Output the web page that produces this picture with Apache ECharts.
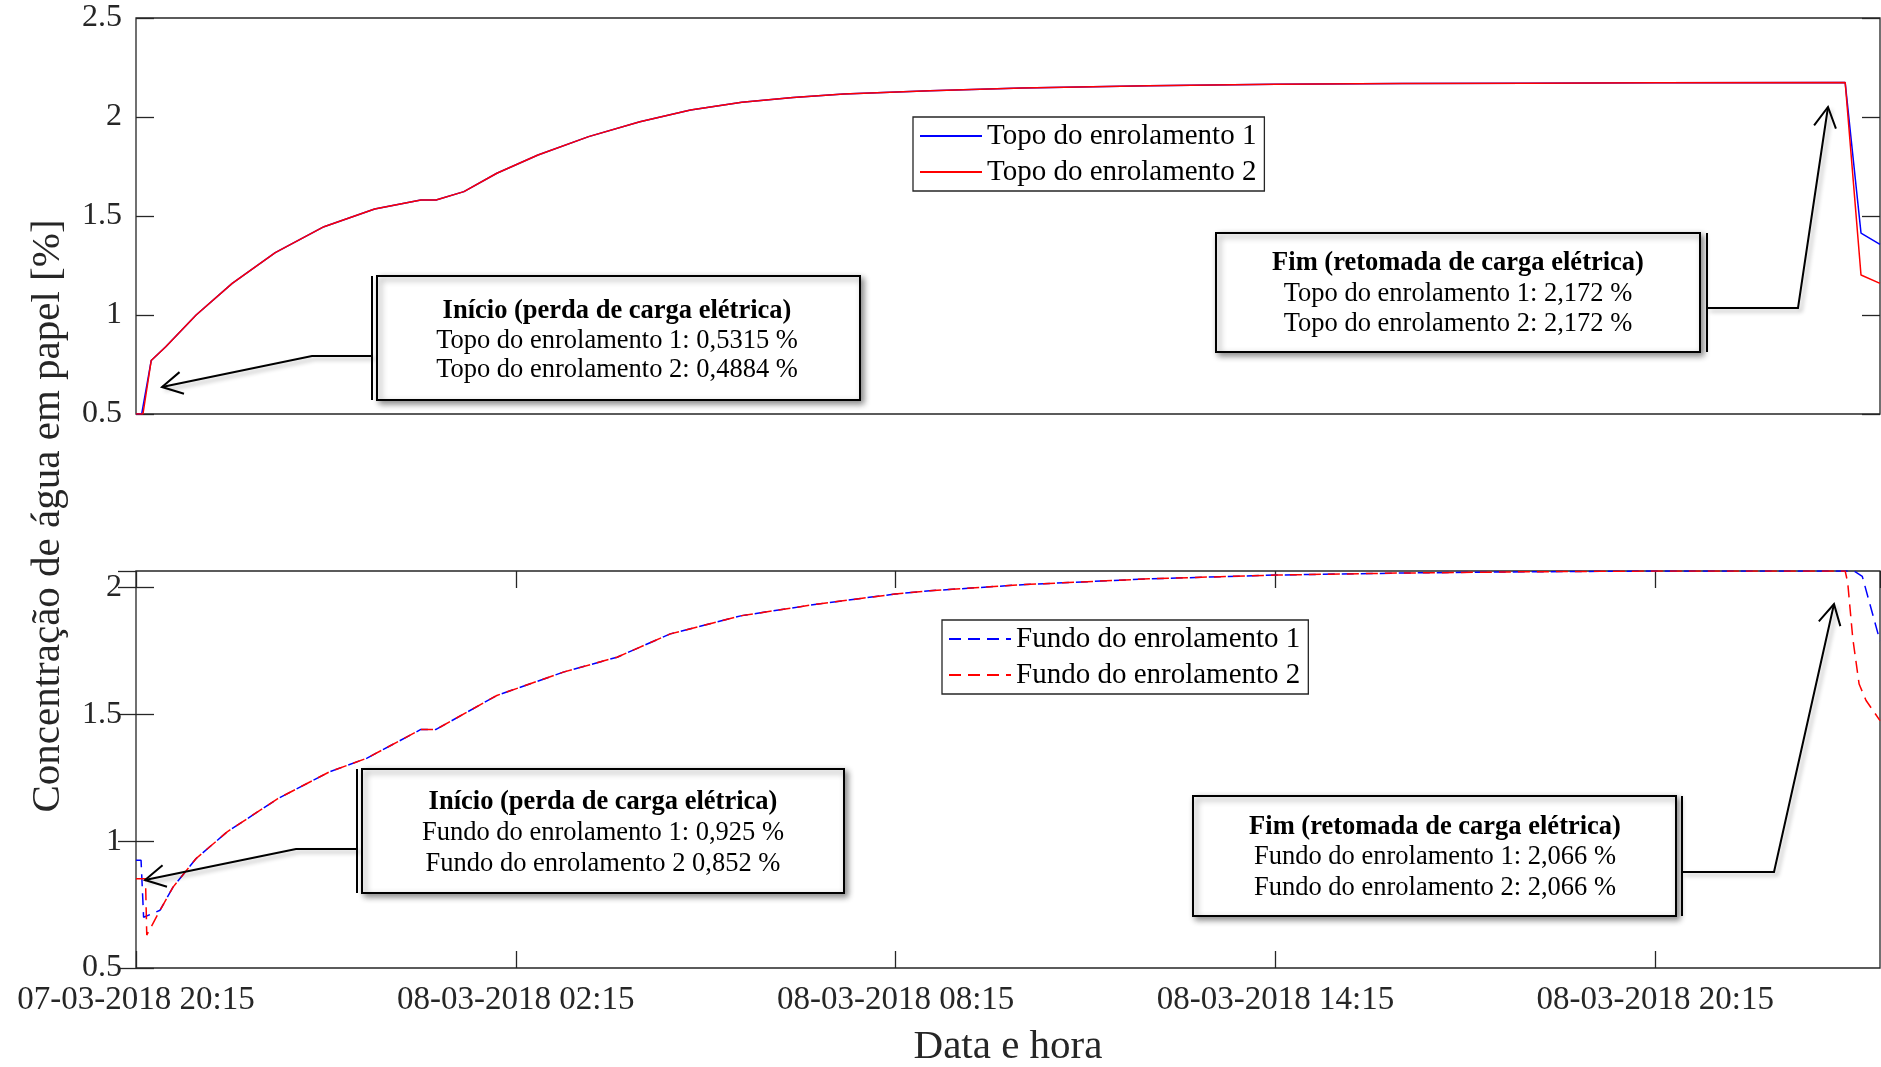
<!DOCTYPE html>
<html>
<head>
<meta charset="utf-8">
<script src="https://cdn.jsdelivr.net/npm/echarts@6.0.0/dist/echarts.min.js"></script>
<style>
  html, body { margin: 0; padding: 0; background: #fff; }
  #chart { width: 1881px; height: 1067px; }
</style>
</head>
<body>
<div id="chart"></div>
<script type="text/javascript">
// horas desde 07-03-2018 20:15
var xTickHours = [0, 6, 12, 18, 24];
var xTickLabels = ['07-03-2018 20:15', '08-03-2018 02:15', '08-03-2018 08:15', '08-03-2018 14:15', '08-03-2018 20:15'];

// painel superior (topo), curva comum aos dois enrolamentos
var topoCurveH = [0.24, 0.47, 0.95, 1.52, 2.20, 2.97, 3.77, 4.50, 4.74, 5.18, 5.70, 6.35, 7.15, 7.96, 8.76, 9.57, 10.38, 11.18, 12.54, 14, 16, 18, 20, 22, 24, 27.0];
var topoCurveV = [0.77, 0.84, 1.0, 1.16, 1.315, 1.446, 1.535, 1.581, 1.581, 1.623, 1.716, 1.808, 1.901, 1.976, 2.035, 2.074, 2.099, 2.116, 2.133, 2.147, 2.158, 2.165, 2.169, 2.171, 2.173, 2.174];
var topo1StartH = [0, 0.09], topo1StartV = [0.5, 0.5];
var topo2StartH = [0, 0.11], topo2StartV = [0.5, 0.5];
var topo1EndH = [27.25, 27.55], topo1EndV = [1.414, 1.357];
var topo2EndH = [27.25, 27.55], topo2EndV = [1.202, 1.160];

// painel inferior (fundo)
var fundoCurveH = [0.38, 0.585, 0.95, 1.44, 2.24, 3.05, 3.65, 4.50, 4.74, 5.70, 6.75, 7.60, 8.44, 9.57, 10.78, 11.99, 12.54, 14, 16, 18, 20, 22, 24];
var fundoCurveV = [0.728, 0.819, 0.932, 1.037, 1.168, 1.273, 1.328, 1.441, 1.441, 1.575, 1.667, 1.726, 1.818, 1.890, 1.936, 1.975, 1.988, 2.012, 2.035, 2.050, 2.058, 2.063, 2.066];
var fundo1StartH = [0, 0.08, 0.12], fundo1StartV = [0.925, 0.925, 0.70];
var fundo2StartH = [0, 0.15, 0.17], fundo2StartV = [0.852, 0.852, 0.63];
var fundo1EndH = [27.14, 27.27, 27.55], fundo1EndV = [2.066, 2.045, 1.79];
var fundo2EndH = [27.0, 27.04, 27.12, 27.22, 27.33, 27.55], fundo2EndV = [2.066, 2.02, 1.80, 1.62, 1.555, 1.476];

var legendTopo = ['Topo do enrolamento 1', 'Topo do enrolamento 2'];
var legendFundo = ['Fundo do enrolamento 1', 'Fundo do enrolamento 2'];

var noteTopoIni = ['Início (perda de carga elétrica)', 'Topo do enrolamento 1: 0,5315 %', 'Topo do enrolamento 2: 0,4884 %'];
var noteTopoFim = ['Fim (retomada de carga elétrica)', 'Topo do enrolamento 1: 2,172 %', 'Topo do enrolamento 2: 2,172 %'];
var noteFundoIni = ['Início (perda de carga elétrica)', 'Fundo do enrolamento 1: 0,925 %', 'Fundo do enrolamento 2 0,852 %'];
var noteFundoFim = ['Fim (retomada de carga elétrica)', 'Fundo do enrolamento 1: 2,066 %', 'Fundo do enrolamento 2: 2,066 %'];

var FONT = "'Liberation Serif', 'Times New Roman', serif";
var AXC = '#262626';

function pairs(parts) {
  var out = [];
  parts.forEach(function (p) {
    for (var i = 0; i < p[0].length; i++) out.push([p[0][i], p[1][i]]);
  });
  return out;
}

var chart = echarts.init(document.getElementById('chart'), null, { renderer: 'canvas' });

function xAxisBase(grid) {
  return {
    type: 'value', gridIndex: grid, min: 0, max: 27.55, interval: 6,
    axisLine: { show: false }, splitLine: { show: false },
    axisTick: { show: false }, axisLabel: { show: false }
  };
}
function yAxisBase(grid, max, pos, labels) {
  return {
    type: 'value', gridIndex: grid, position: pos, min: 0.5, max: max, interval: 0.5,
    axisLine: { show: false }, splitLine: { show: false },
    axisTick: { show: true, inside: true, length: 18, lineStyle: { color: AXC, width: 1.3 } },
    axisLabel: {
      show: labels, margin: 14, showMaxLabel: max === 2.5, color: AXC,
      fontFamily: FONT, fontSize: 32
    }
  };
}

var xBottom = xAxisBase(1);
xBottom.axisTick = { show: true, inside: true, length: 17, lineStyle: { color: AXC, width: 1.3 } };
xBottom.axisLabel = {
  show: true, margin: 16, showMaxLabel: false, color: AXC, fontFamily: FONT, fontSize: 33,
  formatter: function (v) { var i = xTickHours.indexOf(v); return i >= 0 ? xTickLabels[i] : ''; }
};
xBottom.name = 'Data e hora';
xBottom.nameLocation = 'middle';
xBottom.nameGap = 59;
xBottom.nameTextStyle = { color: AXC, fontFamily: FONT, fontSize: 41 };
var xTopOfBottom = xAxisBase(1);
xTopOfBottom.position = 'top';
xTopOfBottom.axisTick = { show: true, inside: true, length: 17, lineStyle: { color: AXC, width: 1.3 } };

function legendCfg(names, left, top) {
  return {
    data: names, orient: 'vertical', left: left, top: top,
    padding: [2, 8, 2, 6], itemGap: 2, itemWidth: 62, itemHeight: 14,
    borderColor: AXC, borderWidth: 1.3, backgroundColor: '#fff',
    selectedMode: false,
    itemStyle: { color: 'rgba(0,0,0,0)', borderWidth: 0, opacity: 0 },
    textStyle: { fontFamily: FONT, fontSize: 29, color: '#000', lineHeight: 34 }
  };
}

function lineSeries(name, xi, yi, color, dashed, data) {
  return {
    name: name, type: 'line', xAxisIndex: xi, yAxisIndex: yi,
    symbol: 'none', animation: false, data: data,
    lineStyle: { color: color, width: 1.5, type: dashed ? [12, 7] : 'solid' },
    itemStyle: { color: color }
  };
}

// anotações (caixas + setas), em pixels
function arrowHead(tip, from) {
  var dx = tip[0] - from[0], dy = tip[1] - from[1];
  var d = Math.sqrt(dx * dx + dy * dy); dx /= d; dy /= d;
  var len = 23, a = 0.5, pts = [];
  [a, -a].forEach(function (s) {
    var c = Math.cos(s), n = Math.sin(s);
    var rx = dx * c - dy * n, ry = dx * n + dy * c;
    pts.push([tip[0] - len * rx, tip[1] - len * ry]);
  });
  return [pts[0], tip, pts[1]];
}

var notes = [
  { lines: noteTopoIni, box: [377, 276, 483, 124], side: 372, cx: 617, ty: [311, 341, 370],
    link: [[372, 356], [312, 356], [162, 387]] },
  { lines: noteTopoFim, box: [1216, 233, 484, 119], side: 1707, cx: 1458, ty: [263, 294, 324],
    link: [[1707, 308], [1798, 308], [1828, 107]] },
  { lines: noteFundoIni, box: [362, 769, 482, 124], side: 357, cx: 603, ty: [802, 833, 864],
    link: [[357, 849], [296, 849], [145, 880]] },
  { lines: noteFundoFim, box: [1193, 796, 483, 120], side: 1682, cx: 1435, ty: [827, 857, 888],
    link: [[1682, 872], [1774, 872], [1834, 604]] }
];

var shadow = { shadowBlur: 6, shadowColor: 'rgba(0,0,0,0.45)', shadowOffsetX: 3, shadowOffsetY: 3 };
var graphics = [];
notes.forEach(function (nt) {
  var b = nt.box;
  graphics.push({
    type: 'polyline', z: 50, shape: { points: nt.link },
    style: Object.assign({ stroke: '#000', lineWidth: 2, fill: null }, shadow, { shadowBlur: 4, shadowColor: 'rgba(0,0,0,0.3)' })
  });
  var n = nt.link.length;
  graphics.push({
    type: 'polyline', z: 50, shape: { points: arrowHead(nt.link[n - 1], nt.link[n - 2]) },
    style: { stroke: '#000', lineWidth: 2, fill: null }
  });
  graphics.push({
    type: 'rect', z: 51, shape: { x: b[0], y: b[1], width: b[2], height: b[3] },
    style: Object.assign({ fill: '#fff', stroke: '#000', lineWidth: 2 }, shadow)
  });
  graphics.push({
    type: 'line', z: 51, shape: { x1: nt.side, y1: b[1], x2: nt.side, y2: b[1] + b[3] },
    style: { stroke: '#000', lineWidth: 2 }
  });
  nt.lines.forEach(function (t, i) {
    graphics.push({
      type: 'text', z: 52, x: nt.cx, y: nt.ty[i],
      style: {
        text: t, fill: '#000', fontFamily: FONT, fontSize: 26.5,
        fontWeight: i === 0 ? 'bold' : 'normal', align: 'center', verticalAlign: 'middle'
      }
    });
  });
});
graphics.push({
  type: 'text', x: 48, y: 516, rotation: Math.PI / 2,
  style: {
    text: 'Concentração de água em papel [%]', fill: AXC, fontFamily: FONT, fontSize: 41,
    align: 'center', verticalAlign: 'middle'
  }
});

chart.setOption({
  backgroundColor: '#fff',
  animation: false,
  grid: [
    { left: 136, top: 18, right: 1, height: 396, show: true, borderColor: AXC, borderWidth: 1.3, outerBoundsMode: 'none' },
    { left: 136, top: 571, right: 1, height: 397, show: true, borderColor: AXC, borderWidth: 1.3, outerBoundsMode: 'none' }
  ],
  xAxis: [xAxisBase(0), xBottom, xTopOfBottom],
  yAxis: [
    yAxisBase(0, 2.5, 'left', true),
    yAxisBase(0, 2.5, 'right', false),
    yAxisBase(1, 2.066, 'left', true),
    yAxisBase(1, 2.066, 'right', false)
  ],
  legend: [legendCfg(legendTopo, 913, 117), legendCfg(legendFundo, 942, 620)],
  series: [
    lineSeries(legendTopo[0], 0, 0, '#0000ff', false, pairs([[topo1StartH, topo1StartV], [topoCurveH, topoCurveV], [topo1EndH, topo1EndV]])),
    lineSeries(legendTopo[1], 0, 0, '#ff0000', false, pairs([[topo2StartH, topo2StartV], [topoCurveH, topoCurveV], [topo2EndH, topo2EndV]])),
    lineSeries(legendFundo[0], 1, 2, '#0000ff', true, pairs([[fundo1StartH, fundo1StartV], [fundoCurveH, fundoCurveV], [fundo1EndH, fundo1EndV]])),
    lineSeries(legendFundo[1], 1, 2, '#ff0000', true, pairs([[fundo2StartH, fundo2StartV], [fundoCurveH, fundoCurveV], [fundo2EndH, fundo2EndV]]))
  ],
  graphic: graphics
});
</script>
</body>
</html>
